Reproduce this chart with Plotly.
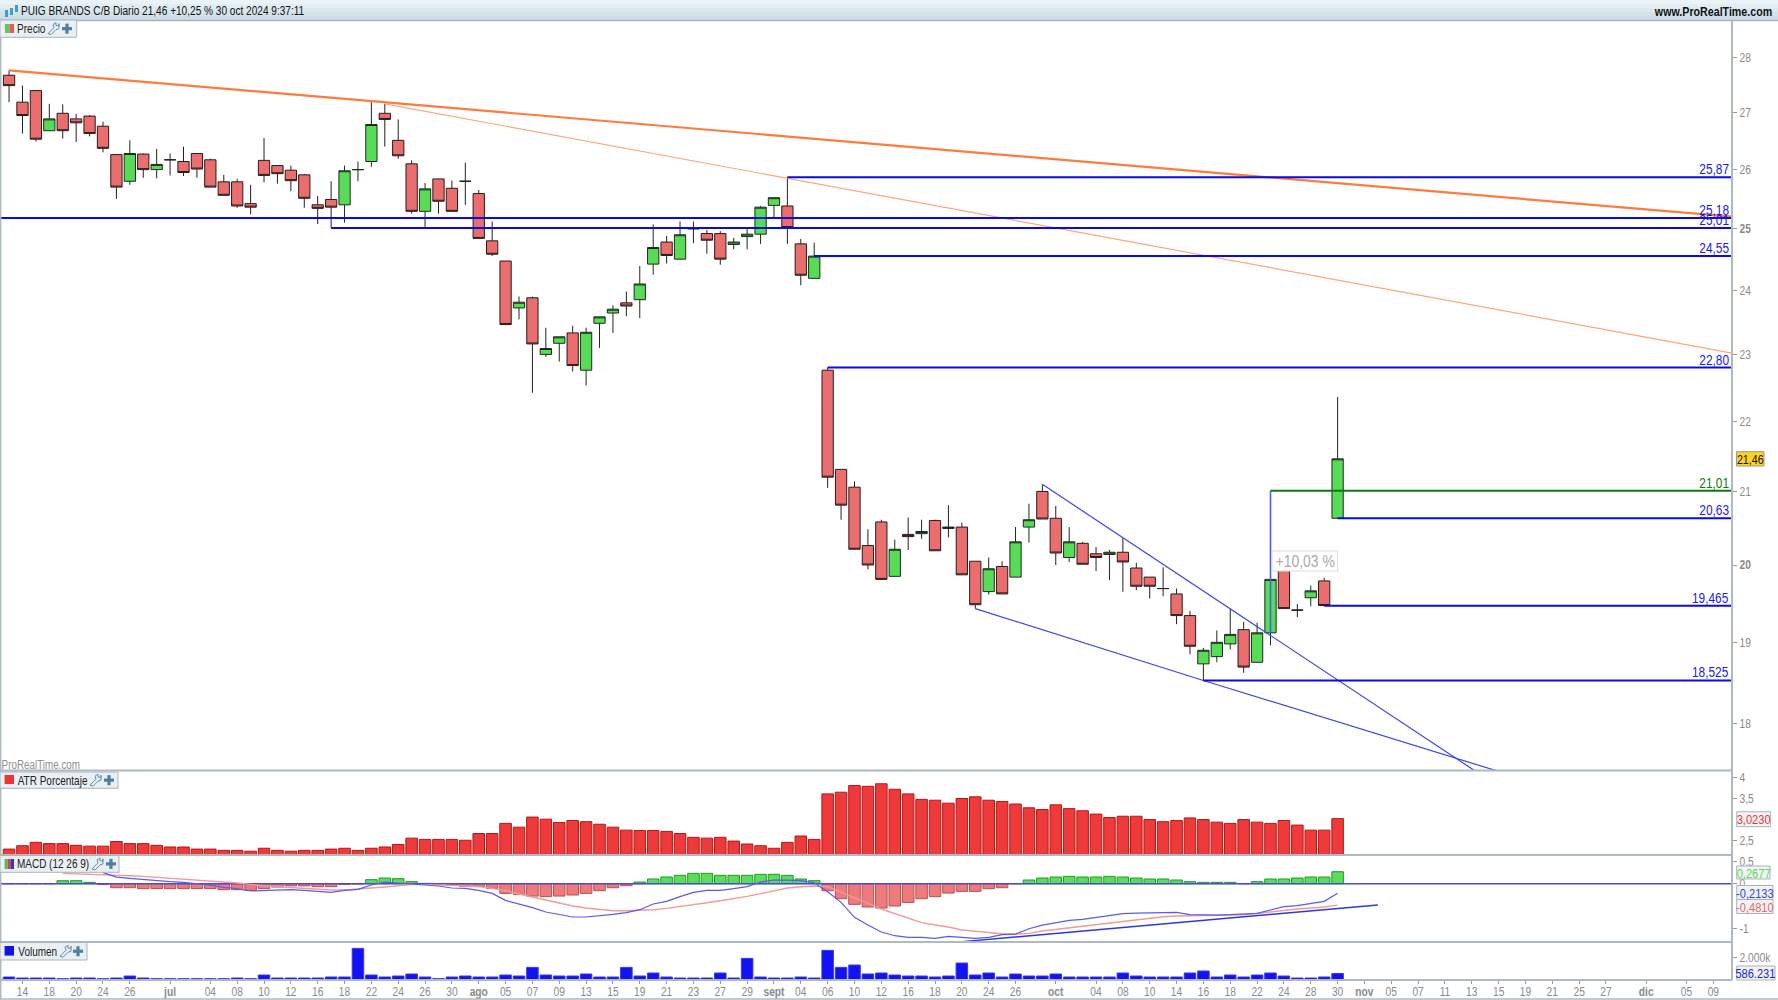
import math
import plotly.graph_objects as go

W, H = 1778, 1000
FONT = "Liberation Sans"
# ---------- data ----------
opens = [27.68,27.19,27.40,26.68,26.99,26.89,26.94,26.76,26.26,25.80,26.27,26.00,26.17,26.14,26.28,26.17,25.79,25.79,25.42,26.16,
26.07,25.99,25.91,25.40,25.49,25.40,26.00,26.14,26.99,26.51,26.10,25.29,25.84,25.68,25.80,25.59,24.80,24.47,23.72,23.88,
23.00,23.17,23.33,22.76,23.48,23.64,23.80,23.85,24.42,24.78,24.50,25.00,24.92,24.92,24.74,24.87,24.91,25.39,25.38,24.75,
24.19,22.76,21.31,21.06,20.26,20.58,19.85,20.41,20.42,20.60,20.49,20.51,20.05,19.65,19.98,19.84,20.51,21.00,20.63,20.10,
20.29,20.15,20.14,20.17,19.96,19.84,19.69,19.62,19.34,18.73,18.82,18.98,19.16,18.75,19.12,20.00,19.41,19.57,19.79,20.63]
highs = [27.77,27.49,27.40,27.16,27.15,26.98,26.96,26.84,26.27,26.51,26.28,26.36,26.28,26.40,26.29,26.19,25.91,25.84,25.74,26.55,
26.08,26.07,25.92,25.55,25.80,26.07,26.14,27.19,27.16,26.88,26.16,25.77,25.84,25.81,26.12,25.65,25.12,24.47,23.90,23.90,
23.41,23.27,23.44,23.41,23.58,23.76,23.98,24.39,25.07,24.88,25.12,25.12,24.98,24.96,24.85,25.01,25.38,25.52,25.87,24.83,
24.77,22.80,21.31,21.14,20.48,20.61,20.34,20.64,20.61,20.61,20.81,20.57,20.05,20.10,20.05,20.51,20.83,21.10,20.80,20.51,
20.31,20.24,20.20,20.36,20.03,19.84,19.97,19.69,19.40,18.93,19.15,19.43,19.26,19.25,19.82,20.02,19.49,19.73,19.83,22.36]
lows = [27.19,26.63,26.49,26.68,26.54,26.48,26.58,26.30,25.50,25.74,25.86,25.85,25.90,25.89,25.86,25.70,25.56,25.35,25.24,25.78,
25.76,25.63,25.35,25.08,25.02,25.10,25.80,26.05,26.40,26.19,25.25,25.02,25.25,25.29,25.40,24.84,24.55,23.45,23.54,22.42,
22.96,22.89,22.74,22.53,23.10,23.33,23.59,23.56,24.25,24.43,24.50,24.76,24.59,24.41,24.66,24.66,24.75,25.19,24.75,24.08,
24.19,21.05,20.61,20.21,19.94,19.80,19.85,20.20,20.35,20.19,20.37,19.87,19.43,19.61,19.62,19.84,20.30,20.62,20.00,20.04,
20.01,19.92,19.80,19.65,19.67,19.56,19.59,19.23,18.85,18.525,18.75,18.91,18.62,18.75,18.96,19.43,19.32,19.46,19.465,20.63]
closes = [27.49,26.95,26.53,26.89,26.68,26.82,26.63,26.37,25.70,26.28,26.00,26.09,26.17,25.95,26.01,25.70,25.56,25.38,25.36,25.90,
25.93,25.81,25.51,25.34,25.36,25.98,26.00,26.79,26.88,26.24,25.29,25.67,25.46,25.29,25.80,24.84,24.58,23.46,23.81,23.16,
23.09,23.27,22.83,23.34,23.58,23.70,23.75,24.10,24.69,24.56,24.90,25.00,24.81,24.50,24.78,24.91,25.36,25.52,25.02,24.24,
24.55,21.20,20.81,20.21,20.00,19.81,20.21,20.38,20.45,20.19,20.51,19.87,19.48,19.95,19.62,20.31,20.61,20.62,20.16,20.31,
20.01,20.10,20.17,20.04,19.72,19.72,19.69,19.34,18.95,18.90,19.00,19.10,18.69,19.12,19.81,19.43,19.41,19.66,19.47,21.46]

atr = [2.30,2.38,2.46,2.43,2.43,2.39,2.37,2.37,2.48,2.43,2.43,2.39,2.35,2.35,2.30,2.30,2.27,2.27,2.25,2.32,
2.27,2.25,2.27,2.27,2.30,2.32,2.27,2.32,2.35,2.41,2.56,2.53,2.53,2.53,2.51,2.67,2.67,2.91,2.82,3.06,
3.01,2.93,2.98,2.95,2.89,2.82,2.75,2.74,2.74,2.72,2.67,2.58,2.56,2.58,2.49,2.42,2.38,2.32,2.46,2.61,
2.53,3.61,3.65,3.81,3.79,3.85,3.72,3.61,3.48,3.46,3.39,3.50,3.54,3.46,3.43,3.37,3.28,3.24,3.35,3.26,
3.21,3.13,3.05,3.08,3.08,3.00,2.95,2.98,3.04,3.00,2.94,2.91,3.00,2.94,2.91,2.98,2.87,2.75,2.75,3.023]

macd_hist = [0,0,0,0,.067,.067,.03,-.02,-.09,-.09,-.11,-.11,-.11,-.11,-.11,-.11,-.135,-.135,-.15,-.11,
-.075,-.05,-.05,-.067,-.067,-.02,-.007,.09,.127,.112,.045,.007,-.007,-.03,-.06,-.06,-.105,-.217,-.24,-.277,
-.29,-.277,-.254,-.217,-.157,-.09,-.045,.037,.105,.15,.187,.232,.232,.187,.187,.187,.21,.21,.187,.105,
.067,-.157,-.336,-.463,-.523,-.546,-.50,-.42,-.336,-.291,-.21,-.172,-.172,-.112,-.09,0,.082,.127,.15,.164,
.15,.15,.164,.15,.127,.105,.105,.082,.045,.03,.03,.03,0,.045,.105,.105,.127,.15,.15,.2677]

macd_start = 7
macd_line = [.247,.149,.12,.09,.067,.045,.03,0,-.03,-.082,-.112,-.164,-.149,-.142,-.135,-.149,-.172,-.194,-.149,-.127,
-.03,.037,.015,-.007,-.03,-.052,-.097,-.105,-.149,-.217,-.374,-.448,-.538,-.635,-.688,-.747,-.747,-.725,-.688,-.65,
-.583,-.456,-.396,-.291,-.194,-.149,-.149,-.112,-.067,.037,.082,.082,.067,.022,-.179,-.419,-.755,-.927,-1.084,-1.166,
-1.203,-1.203,-1.226,-1.181,-1.203,-1.226,-1.203,-1.143,-1.129,-1.009,-.927,-.882,-.822,-.80,-.762,-.717,-.673,-.658,-.658,-.643,
-.643,-.695,-.703,-.703,-.695,-.688,-.665,-.59,-.516,-.493,-.441,-.396,-.2133]
signal_start = 4
signal_line = [.232,.224,.217,.21,.194,.179,.164,.142,.127,.105,.09,.067,.045,.015,-.015,-.052,-.067,-.09,-.112,-.127,
-.142,-.142,-.127,-.097,-.075,-.045,-.022,-.022,-.022,-.037,-.052,-.067,-.105,-.157,-.232,-.299,-.374,-.448,-.50,-.546,
-.583,-.605,-.605,-.598,-.583,-.553,-.516,-.471,-.426,-.381,-.336,-.284,-.224,-.164,-.097,-.067,-.052,-.067,-.187,-.314,
-.441,-.568,-.673,-.77,-.874,-.927,-.972,-1.039,-1.069,-1.099,-1.121,-1.129,-1.114,-1.061,-1.024,-.994,-.949,-.919,-.889,-.845,
-.80,-.77,-.74,-.725,-.717,-.717,-.717,-.71,-.695,-.665,-.628,-.598,-.568,-.546,-.523,-.481]

volume = [269,179,179,179,119,179,179,119,179,358,179,119,119,119,119,119,119,179,119,448,
179,179,179,179,269,269,2836,448,269,358,537,269,119,269,358,269,269,448,358,1134,
448,358,358,537,269,269,1134,358,627,269,179,179,179,627,179,1940,269,179,179,269,
179,2657,1134,1343,537,627,448,358,358,269,358,1522,448,627,269,537,358,358,537,269,
269,269,269,627,358,269,269,269,627,806,269,448,269,448,627,358,179,179,269,586]

tick_pos = [1,3,5,7,9,12,15,17,19,21,23,25,27,29,31,33,35,37,39,41,43,45,47,49,51,53,55,57,59,61,63,65,67,69,71,73,75,78,81,83,85,87,89,91,93,95,97,99,101,103,105,107,109,111,113,115,117,119,122,125,127]
tick_txt = ["14","18","20","24","26","<b>jul</b>","04","08","10","12","16","18","22","24","26","30","<b>ago</b>","05","07","09","13","15","19","21","23","27","29","<b>sept</b>","04","06","10","12","16","18","20","24","26","<b>oct</b>","04","08","10","14","16","18","22","24","28","30","<b>nov</b>","05","07","11","13","15","19","21","25","27","<b>dic</b>","05","09"]

price_ticks = [18,19,20,21,22,23,24,25,26,27,28]
price_tick_txt = ["18","19","<b>20</b>","21","22","23","24","<b>25</b>","26","27","28"]

levels_blue = [(25.87,58),(25.18,-0.6),(25.01,24),(24.55,60),(22.80,61),(20.63,99),(19.465,98),(18.525,89)]
level_txt = {25.87:"25,87",25.18:"25,18",25.01:"25,01",24.55:"24,55",22.80:"22,80",21.01:"21,01",20.63:"20,63",19.465:"19,465",18.525:"18,525"}
level_green = (21.01,94)
XMIN, XMAX = -0.6, 128.39

# ---------- helpers for page furniture ----------
def fx(p): return p / W
def fy(p): return 1 - p / H
def rect(x0, y0, x1, y1, fill, line=None, lw=1):
    return dict(type="rect", xref="paper", yref="paper", x0=fx(x0), x1=fx(x1), y0=fy(y0), y1=fy(y1),
                fillcolor=fill, line=dict(color=line or fill, width=lw if line else 0), layer="above")
def hl(y, x0=0, x1=W, c="#aeb9c1", w=2):
    return dict(type="line", xref="paper", yref="paper", x0=fx(x0), x1=fx(x1), y0=fy(y), y1=fy(y),
                line=dict(color=c, width=w), layer="above")
def txt(x, y, s, color="#222", size=12, anchor="center", family=FONT, **kw):
    # x is the centre of the text: the condensing below keeps the centre fixed
    return dict(xref="paper", yref="paper", x=fx(x), y=fy(y), text=s, showarrow=False, xanchor=anchor, yanchor="middle",
                font=dict(family=family, size=size, color=color), **kw)

fig = go.Figure()
idx = list(range(len(closes)))

fig.add_trace(go.Candlestick(x=idx, open=opens, high=highs, low=lows, close=closes,
    increasing=dict(fillcolor="#58dc58", line=dict(color="#1c2a1c", width=1)),
    decreasing=dict(fillcolor="#ea6e6e", line=dict(color="#2a1c1c", width=1)),
    whiskerwidth=0, showlegend=False, hoverinfo="skip"))

def line(x, y, color, width, xa="x", ya="y"):
    fig.add_trace(go.Scatter(x=x, y=y, mode="lines", line=dict(color=color, width=width), xaxis=xa, yaxis=ya,
                             showlegend=False, hoverinfo="skip"))

line([0, XMAX], [27.77, 25.20], "#ff7a3c", 2.2)
line([28, XMAX], [27.16, 23.02], "#ffa47e", 1.2)
line([77, 109.2], [21.10, 17.45], "#3a46ee", 1.2)
line([72, 89, 110.8], [19.43, 18.525, 17.45], "#3a46ee", 1.2)
line([94, 94], [19.12, 21.01], "#4a5cf5", 1.6)
for lv, st in levels_blue:
    line([st, XMAX], [lv, lv], "#0a0ae6", 2)
line([level_green[1], XMAX], [level_green[0]] * 2, "#0d7a0d", 2)

fig.add_trace(go.Bar(x=idx, y=atr, marker=dict(color="#ee3a3a", line=dict(color="#b81414", width=1)),
                     width=0.86, xaxis="x2", yaxis="y2", showlegend=False, hoverinfo="skip"))
hist_col = ["#5ade5a" if v >= 0 else "#ee7a7a" for v in macd_hist]
hist_line = ["#1d9c1d" if v >= 0 else "#b85050" for v in macd_hist]
fig.add_trace(go.Bar(x=idx, y=macd_hist, marker=dict(color=hist_col, line=dict(color=hist_line, width=1)),
                     width=0.86, xaxis="x3", yaxis="y3", showlegend=False, hoverinfo="skip"))
line([XMIN, XMAX], [0, 0], "#4a4ad8", 1.5, "x3", "y3")
line(list(range(signal_start, 100)), signal_line, "#f09a9a", 1.4, "x3", "y3")
line(list(range(macd_start, 100)), macd_line, "#5a5af0", 1.2, "x3", "y3")
line([70.6, 102], [-1.31, -0.478], "#2a3ae0", 1.5, "x3", "y3")
fig.add_trace(go.Bar(x=idx, y=volume, marker=dict(color="#1212f5", line=dict(color="#3a3ae0", width=1)),
                     width=0.86, xaxis="x4", yaxis="y4", showlegend=False, hoverinfo="skip"))

# ---------- axes ----------
axc = "#aeb9c1"
tf = dict(family=FONT, size=12.5, color="#8a8a8a")
def xax(**kw):
    return dict(range=[XMIN, XMAX], domain=[fx(1), fx(1732)], showgrid=False, zeroline=False, rangeslider=dict(visible=False), **kw)
def yax(top, bot, **kw):
    return dict(domain=[fy(bot), fy(top)], side="right", showgrid=False, zeroline=False, ticks="outside", ticklen=4,
                tickcolor="#999", tickwidth=1, tickfont=tf, showline=False, **kw)

layout = dict(width=W, height=H, margin=dict(l=0, r=0, t=0, b=0), paper_bgcolor="white", plot_bgcolor="white",
    showlegend=False, boxgap=0.16, boxgroupgap=0, bargap=0.14, hovermode=False, dragmode=False,
    xaxis=xax(anchor="y", showticklabels=False, ticks=""),
    xaxis2=xax(anchor="y2", showticklabels=False, ticks=""),
    xaxis3=xax(anchor="y3", showticklabels=False, ticks=""),
    xaxis4=xax(anchor="y4", tickmode="array", tickvals=tick_pos, ticktext=tick_txt, ticks="outside", ticklen=3,
               tickcolor="#999", tickfont=tf, tickangle=0, ticklabelstandoff=-3),
    yaxis=yax(20, 770.5, anchor="x", type="log", range=[1.24181, 1.45809], tickmode="array", tickvals=price_ticks, ticktext=price_tick_txt),
    yaxis2=yax(770.5, 855, anchor="x2", range=[2.16, 4.165], tickmode="array", tickvals=[2.5, 3.5, 4], ticktext=["2,5", "3,5", "4"]),
    yaxis3=yax(855, 942, anchor="x3", range=[-1.307, 0.643], tickmode="array", tickvals=[-1, 0, 0.5], ticktext=["-1", "0", "0,5"]),
    yaxis4=yax(942, 980, anchor="x4", range=[0, 3408], tickmode="array", tickvals=[2000], ticktext=["2.000k"]),
)

# ---------- page furniture ----------
shapes = []
bands = ["#eaf3f7", "#e2edf2", "#dbe8ee", "#d3e2e9", "#cbdde5"]
for k, c in enumerate(bands):
    shapes.append(rect(0, k * 4, W, (k + 1) * 4, c))
shapes.append(hl(20.5, c="#a9b5bd", w=1.5))
for y in (770.5, 855, 942, 980):
    shapes.append(hl(y, 0, 1732))
shapes.append(hl(999, 0, W, c="#aeb9c1", w=1.5))
shapes.append(dict(type="line", xref="paper", yref="paper", x0=fx(1732), x1=fx(1732), y0=fy(20), y1=fy(980), line=dict(color=axc, width=2), layer="above"))
shapes.append(dict(type="line", xref="paper", yref="paper", x0=fx(0.7), x1=fx(0.7), y0=fy(20), y1=fy(1000), line=dict(color=axc, width=1.5), layer="above"))

ann = []
ann.append(txt(162.5, 11.5, "PUIG BRANDS C/B Diario 21,46 +10,25 % 30 oct 2024 9:37:11", color="#111", size=12.3))
ann.append(txt(1713, 11.5, "<b>www.ProRealTime.com</b>", color="#111", size=13))
ann.append(txt(40.5, 765, "ProRealTime.com", color="#8f8f8f", size=12))

# header icon
for x0, y0, y1 in ((5, 10, 17), (10, 8, 15), (15, 5, 12)):
    shapes.append(rect(x0, y0, x0 + 3, y1, "#3f9bd6"))

def legend(x1, y0, y1, name, name_c, wrench, plus):
    shapes.append(rect(0, y0, x1, y1, "#e9eff3", "#a9b5bd", 1))
    ann.append(txt(name_c, (y0 + y1) / 2 + 0.5, name, color="#222", size=12.2))
    cy = (y0 + y1) / 2
    p = (f"M {fx(wrench)} {fy(cy+5)} L {fx(wrench+6)} {fy(cy-1)} L {fx(wrench+5)} {fy(cy-4)} L {fx(wrench+8)} {fy(cy-6)} "
         f"L {fx(wrench+8)} {fy(cy-3)} L {fx(wrench+11)} {fy(cy-3)} L {fx(wrench+11)} {fy(cy-5)} L {fx(wrench+11)} {fy(cy)} "
         f"L {fx(wrench+8)} {fy(cy+1)} L {fx(wrench+3)} {fy(cy+6)} Z")
    shapes.append(dict(type="path", xref="paper", yref="paper", path=p, line=dict(color="#5f8fb0", width=1), layer="above"))
    shapes.append(rect(plus - 5, cy - 1.6, plus + 5, cy + 1.6, "#4f7f9f"))
    shapes.append(rect(plus - 1.6, cy - 5, plus + 1.6, cy + 5, "#4f7f9f"))

legend(76.7, 20, 37.3, "Precio", 31.5, 48, 67)
legend(118, 772, 788.3, "ATR Porcentaje", 52.5, 90, 109)
legend(119, 855.5, 872.3, "MACD (12 26 9)", 52.5, 92, 111)
legend(87, 942.5, 960, "Volumen", 37, 60, 78)

shapes += [rect(5, 24, 9.5, 33, "#55cc55"), rect(9.5, 24, 14, 33, "#ee5555")]
shapes += [rect(4.6, 775, 14, 784, "#ee3333")]
shapes += [rect(4.6, 859, 7.7, 869, "#55bb55"), rect(7.7, 859, 10.9, 869, "#cc4444"), rect(10.9, 859, 14, 869, "#3333dd")]
shapes += [rect(4.6, 946, 14, 955.6, "#1111ee")]

# level labels
for lv, s in level_txt.items():
    cx = 1710.4 if len(s) > 5 else 1713.5
    ann.append(dict(xref="paper", yref="y", x=fx(cx), y=math.log10(lv), text=s, showarrow=False, xanchor="center", yanchor="middle",
                    yshift=8, font=dict(family=FONT, size=14.5, color="#0d7a0d" if lv == 21.01 else "#1a1ae6")))

# value boxes
def box(x0, x1, y0, y1, s, color, bg="#f1f3f4", border="#a9b5bd", size=13.5):
    shapes.append(rect(x0, y0, x1, y1, bg, border, 1))
    ann.append(txt((x0 + x1) / 2, (y0 + y1) / 2 + 0.5, s, color=color, size=size))
box(1736.5, 1764, 451.7, 466, "21,46", "#111", bg="#ffd21e", border="#9a9a9a", size=13)
box(1736.7, 1770.6, 811.7, 826.7, "3,0230", "#ee3333")
box(1736.7, 1770, 866, 879, "0,2677", "#55dd55")
box(1736.7, 1773, 885.5, 899.5, "-0,2133", "#3a3aee")
box(1736.7, 1773, 899.5, 913.5, "-0,4810", "#e26a6a")
box(1736.7, 1775, 966, 980, "586.231", "#1a1aee")

# measurement label
shapes.append(rect(1272, 551, 1337.5, 571, "#ffffff", "#dddddd", 1))
ann.append(txt(1304.7, 561, "+10,03 %", color="#aaaaaa", size=17))

layout["shapes"] = shapes
layout["annotations"] = ann
fig.update_layout(**layout)

# the reference's interface font is a narrow one: condense the real text horizontally
condense = """
document.body.style.margin='0';document.documentElement.style.overflow='hidden';
document.querySelectorAll('.main-svg text').forEach(function(t){
  var n=t.getComputedTextLength();
  if(n>0){t.setAttribute('textLength',(n*0.82).toFixed(2));t.setAttribute('lengthAdjust','spacingAndGlyphs');}
});
"""
fig.write_html("out.html", config=dict(displayModeBar=False), post_script=condense)
